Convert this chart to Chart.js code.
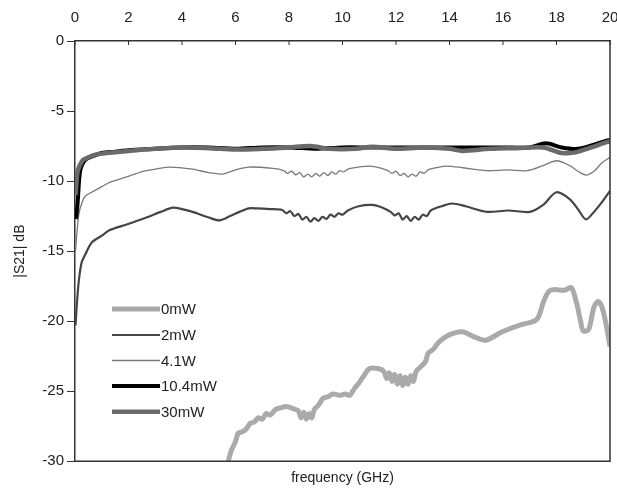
<!DOCTYPE html>
<html>
<head>
<meta charset="utf-8">
<script src="https://cdn.jsdelivr.net/npm/chart.js@4.4.0/dist/chart.umd.min.js"></script>
<style>
  html, body { margin: 0; padding: 0; background: #fff; }
  #wrap { width: 617px; height: 495px; }
</style>
</head>
<body>
<div id="wrap"><canvas id="myChart" width="617" height="495"></canvas></div>
<script>
// tick labels
const xTicks = [0, 2, 4, 6, 8, 10, 12, 14, 16, 18, 20];
const yTicks = [0, -5, -10, -15, -20, -25, -30];

// 0mW
const f0mW = [5.73, 5.85, 6.0, 6.1, 6.25, 6.4, 6.55, 6.7, 6.85, 7.0, 7.15, 7.3, 7.5, 7.66, 7.9, 8.16, 8.35, 8.45, 8.55, 8.65, 8.75, 8.85, 8.95, 9.1, 9.28, 9.45, 9.65, 9.9, 10.1, 10.27, 10.45, 10.6, 10.8, 11.0, 11.36,
  11.55, 11.65, 11.75, 11.85, 11.95, 12.05, 12.15, 12.25, 12.35, 12.45, 12.55, 12.65, 12.75,
  12.9, 13.1, 13.2, 13.4, 13.6, 13.97, 14.47, 14.9, 15.35, 15.97, 16.6, 17.2, 17.35, 17.5, 17.7, 17.9, 18.3, 18.55, 18.75, 18.9, 19.0, 19.2, 19.4, 19.55, 19.7, 19.85, 20];
const s0mW = [-30, -29.2, -28.6, -28.0, -27.9, -27.7, -27.3, -27.2, -26.9, -27.0, -26.6, -26.7, -26.3, -26.2, -26.1, -26.25, -26.4, -26.9, -26.5, -27.0, -26.6, -26.9, -26.3, -26.0, -25.5, -25.4, -25.2, -25.3, -25.2, -25.3, -24.8, -24.45, -23.9, -23.4, -23.4,
  -23.6, -24.1, -23.7, -24.3, -23.8, -24.5, -23.9, -24.6, -24.0, -24.5, -23.9, -24.3, -23.6,
  -23.3, -22.9, -22.3, -22.0, -21.5, -21.0, -20.76, -21.1, -21.36, -20.76, -20.3, -19.98, -19.6, -18.7, -17.9, -17.75, -17.8, -17.6, -18.7, -20.0, -20.7, -20.6, -19.0, -18.6, -19.0, -20.2, -21.8];

// 2mW
const f2mW = [0.02, 0.08, 0.15, 0.25, 0.37, 0.62, 1.0, 1.3, 1.93, 2.67, 3.2, 3.66, 4.0, 4.4, 5.0, 5.4, 5.8, 6.15, 6.5, 6.8, 7.3, 7.75,
  7.9, 8.05, 8.2, 8.35, 8.5, 8.65, 8.8, 8.95, 9.1, 9.25, 9.4, 9.55, 9.7, 9.85, 10.0, 10.2,
  10.6, 11.1, 11.5, 11.8,
  11.95, 12.1, 12.25, 12.4, 12.55, 12.7, 12.85, 13.0, 13.15, 13.3,
  13.7, 14.1, 14.6, 15.4, 16.2, 17.0, 17.5, 18.0, 18.5, 18.8, 19.1, 19.4, 19.7, 20];
const s2mW = [-20.3, -18.5, -17.0, -15.8, -15.3, -14.4, -13.9, -13.5, -13.1, -12.6, -12.2, -11.9, -12.0, -12.2, -12.6, -12.8, -12.5, -12.2, -11.95, -11.95, -12.0, -12.07,
  -12.3, -12.15, -12.5, -12.35, -12.75, -12.55, -12.9, -12.65, -12.85, -12.55, -12.7, -12.4, -12.55, -12.3, -12.4, -12.1,
  -11.8, -11.7, -11.9, -12.2,
  -12.45, -12.3, -12.75, -12.5, -12.85, -12.55, -12.75, -12.4, -12.5, -12.1,
  -11.8, -11.6, -11.8, -12.2, -12.1, -12.2, -11.7, -10.8, -11.3, -12.0, -12.74, -12.2, -11.5, -10.7];

// 4.1W
const f41W = [0.02, 0.08, 0.15, 0.25, 0.37, 0.62, 1.0, 1.3, 1.93, 2.55, 3.0, 3.54, 4.4, 5.0, 5.5, 6.0, 6.5, 7.4,
  7.8, 7.95, 8.1, 8.25, 8.4, 8.55, 8.7, 8.85, 9.0, 9.15, 9.3, 9.45, 9.6, 9.75, 9.9, 10.05, 10.2,
  10.6, 11.0, 11.4, 11.7,
  11.85, 12.0, 12.15, 12.3, 12.45, 12.6, 12.75, 12.9, 13.05, 13.2,
  13.5, 13.9, 14.5, 15.4, 16.2, 16.9, 17.5, 18.0, 18.5, 18.8, 19.1, 19.4, 19.7, 20];
const s41W = [-15.0, -13.5, -12.3, -11.6, -11.1, -10.8, -10.4, -10.1, -9.7, -9.3, -9.15, -9.0, -9.15, -9.4, -9.5, -9.2, -9.0, -9.1,
  -9.25, -9.45, -9.3, -9.55, -9.4, -9.7, -9.5, -9.7, -9.45, -9.65, -9.4, -9.6, -9.35, -9.5, -9.25, -9.35, -9.15,
  -9.0, -8.93, -9.05, -9.25,
  -9.45, -9.3, -9.6, -9.45, -9.7, -9.5, -9.65, -9.35, -9.45, -9.2,
  -9.05, -8.93, -9.05, -9.26, -9.2, -9.26, -8.9, -8.55, -8.9, -9.3, -9.57, -9.3, -8.7, -8.3];

// 10.4mW
const f104mW = [0.02, 0.05, 0.1, 0.15, 0.2, 0.3, 0.45, 0.7, 1.0, 1.5, 2.0, 3.0, 4.0, 5.0, 6.0, 7.0, 8.0, 9.0, 10.0, 11.0, 12.0, 13.0, 14.0, 15.0, 16.0, 17.0, 17.6, 18.2, 18.8, 19.4, 19.9, 20];
const s104mW = [-12.7, -12.5, -11.5, -10.0, -9.2, -8.7, -8.4, -8.2, -8.0, -7.9, -7.8, -7.7, -7.6, -7.6, -7.7, -7.6, -7.6, -7.7, -7.6, -7.6, -7.6, -7.6, -7.6, -7.6, -7.6, -7.6, -7.3, -7.6, -7.7, -7.4, -7.1, -7.1];

// 30mW
const f30mW = [0.02, 0.1, 0.2, 0.3, 0.5, 0.8, 1.2, 2.0, 3.0, 4.0, 5.0, 6.0, 7.0, 8.0, 8.8, 9.5, 10.5, 11.1, 12.0, 13.0, 14.0, 14.5, 15.5, 16.5, 17.5, 18.2, 18.7, 19.3, 19.9, 20];
const s30mW = [-11.0, -9.3, -8.8, -8.5, -8.3, -8.1, -8.0, -7.85, -7.7, -7.6, -7.65, -7.75, -7.7, -7.6, -7.5, -7.7, -7.7, -7.55, -7.7, -7.6, -7.7, -7.85, -7.7, -7.65, -7.6, -8.0, -7.95, -7.6, -7.2, -7.2];

const pts = (xs, ys) => xs.map((x, i) => ({ x: x, y: ys[i] }));

const FONT = "'Liberation Sans', Arial, sans-serif";
const INK = '#222';

// frame: right + bottom border, little inward ticks on top axis
const framePlugin = {
  id: 'frame',
  afterDraw(chart) {
    const { ctx, chartArea: a, scales } = chart;
    ctx.save();
    ctx.strokeStyle = '#333';
    ctx.lineWidth = 1.5;
    ctx.beginPath();
    ctx.moveTo(a.left, a.bottom);
    ctx.lineTo(a.right, a.bottom);
    ctx.lineTo(a.right, a.top);
    ctx.stroke();
    ctx.lineWidth = 1;
    xTicks.forEach(t => {
      const px = scales.x.getPixelForValue(t);
      ctx.beginPath();
      ctx.moveTo(px, a.top);
      ctx.lineTo(px, a.top + 4);
      ctx.stroke();
    });
    ctx.restore();
  }
};

// legend inside the plot, lower left
const legendPlugin = {
  id: 'inLegend',
  afterDatasetsDraw(chart) {
    const ctx = chart.ctx;
    const order = ['0mW', '2mW', '4.1W', '10.4mW', '30mW'];
    const rowY = [309, 335, 360.5, 386, 411.7];
    ctx.save();
    ctx.font = '15px ' + FONT;
    ctx.textBaseline = 'middle';
    ctx.fillStyle = INK;
    order.forEach((lbl, i) => {
      const ds = chart.data.datasets.find(d => d.label === lbl);
      ctx.strokeStyle = ds.borderColor;
      ctx.lineWidth = ds.borderWidth;
      ctx.beginPath();
      ctx.moveTo(112, rowY[i]);
      ctx.lineTo(160, rowY[i]);
      ctx.stroke();
      ctx.fillText(lbl, 161, rowY[i] + 1);
    });
    ctx.restore();
  }
};

const line = { pointRadius: 0, tension: 0.3, fill: false };

new Chart(document.getElementById('myChart'), {
  type: 'line',
  data: {
    datasets: [
      Object.assign({ label: '0mW', data: pts(f0mW, s0mW), borderColor: '#aaaaaa', borderWidth: 5, order: 4 }, line),
      Object.assign({ label: '2mW', data: pts(f2mW, s2mW), borderColor: '#454545', borderWidth: 2.2, order: 3 }, line),
      Object.assign({ label: '4.1W', data: pts(f41W, s41W), borderColor: '#7a7a7a', borderWidth: 1.3, order: 2 }, line),
      Object.assign({ label: '10.4mW', data: pts(f104mW, s104mW), borderColor: '#000000', borderWidth: 4, order: 1 }, line),
      Object.assign({ label: '30mW', data: pts(f30mW, s30mW), borderColor: '#6a6a6a', borderWidth: 4.5, order: 0 }, line)
    ]
  },
  options: {
    responsive: false,
    animation: false,
    events: [],
    layout: { padding: { right: 7 } },
    plugins: {
      legend: { display: false },
      tooltip: { enabled: false },
      title: {
        display: true,
        position: 'bottom',
        fullSize: false,
        text: 'frequency (GHz)',
        color: INK,
        font: { family: FONT, size: 14, weight: 'normal' },
        padding: { top: 9, bottom: 8 }
      }
    },
    scales: {
      x: {
        type: 'linear',
        position: 'top',
        min: 0, max: 20,
        afterFit: s => { s.height = 41; s.paddingLeft = 0; s.paddingRight = 0; },
        afterBuildTicks: s => { s.ticks = xTicks.map(v => ({ value: v })); },
        grid: { drawOnChartArea: false, drawTicks: false },
        border: { color: '#333', width: 1.5 },
        ticks: { color: INK, padding: 14, maxRotation: 0, font: { family: FONT, size: 15 } }
      },
      y: {
        min: -30, max: 0,
        afterFit: s => { s.width = 75; },
        afterBuildTicks: s => { s.ticks = yTicks.map(v => ({ value: v })); },
        grid: { drawOnChartArea: false, drawTicks: true, tickLength: 8, color: '#333' },
        border: { color: '#333', width: 1.5 },
        ticks: { color: INK, padding: 3, font: { family: FONT, size: 15 } },
        title: { display: true, text: '|S21| dB', color: INK, padding: { top: 12, bottom: 0 }, font: { family: FONT, size: 14 } }
      }
    }
  },
  plugins: [framePlugin, legendPlugin]
});
</script>
</body>
</html>
